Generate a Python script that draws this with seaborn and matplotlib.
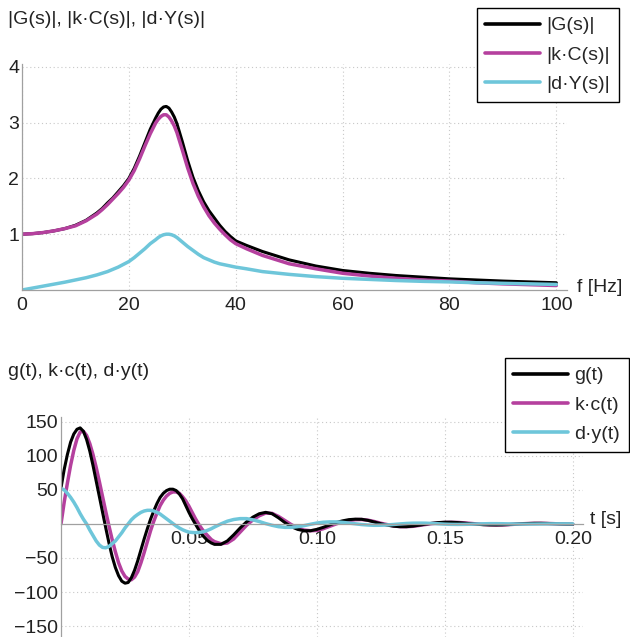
import numpy as np
import matplotlib
matplotlib.use('Agg')
import matplotlib.pyplot as plt
import seaborn as sns
from matplotlib.ticker import MultipleLocator, FixedLocator, FuncFormatter

# Frequency response magnitudes
freq = [0, 2, 4, 6, 8, 10, 12,
        14, 15, 16, 17, 18, 19, 20, 21, 22, 23, 24, 25,
        25.5, 26, 26.5, 27, 27.5, 28, 28.5,
        29, 30, 31, 32, 33, 34, 35, 36, 37, 38, 39, 40,
        42, 45, 50, 55, 60, 65, 70, 75, 80, 85, 90, 95, 100]
mag_g = [1.0, 1.01, 1.03, 1.06, 1.1, 1.16, 1.25,
         1.38, 1.46, 1.56, 1.65, 1.76, 1.87, 2.0, 2.18, 2.4, 2.64, 2.88, 3.08,
         3.17, 3.24, 3.28, 3.29, 3.26, 3.19, 3.1,
         2.98, 2.66, 2.32, 2.02, 1.78, 1.58, 1.42, 1.29, 1.16, 1.05, 0.96, 0.88,
         0.8, 0.69, 0.54, 0.43, 0.35, 0.3, 0.26, 0.23, 0.2, 0.18, 0.16, 0.145, 0.13]
mag_kc = [1.0, 1.01, 1.03, 1.06, 1.1, 1.15, 1.24,
          1.36, 1.44, 1.53, 1.63, 1.73, 1.84, 1.97, 2.14, 2.35, 2.58, 2.8, 2.99,
          3.06, 3.11, 3.14, 3.14, 3.1, 3.03, 2.94,
          2.82, 2.51, 2.19, 1.91, 1.68, 1.49, 1.33, 1.2, 1.09, 0.99, 0.9, 0.83,
          0.74, 0.62, 0.47, 0.38, 0.3, 0.25, 0.21, 0.18, 0.16, 0.13, 0.11, 0.095, 0.08]
mag_dy = [0.0, 0.035, 0.07, 0.105, 0.14, 0.18, 0.22,
          0.27, 0.3, 0.33, 0.37, 0.41, 0.46, 0.51, 0.58, 0.66, 0.74, 0.83, 0.9,
          0.94, 0.97, 0.99, 1.0, 1.0, 0.99, 0.97,
          0.94, 0.86, 0.78, 0.71, 0.64, 0.58, 0.54, 0.5, 0.47, 0.45, 0.43, 0.41,
          0.38, 0.33, 0.28, 0.24, 0.21, 0.19, 0.17, 0.155, 0.145, 0.13, 0.12, 0.11, 0.1]

# Impulse responses: sample times 1.25 ms apart up to 0.06 s, then 2.5 ms
t = np.concatenate([np.linspace(0, 0.06, 49), np.linspace(0.0625, 0.2, 56)])
resp_g = [53, 80, 102, 120, 132, 139, 141, 136, 124, 107,
          86, 63, 40, 17, -6, -28, -48, -64, -76, -84,
          -87, -86, -79, -68, -54, -38, -22, -7, 7, 19,
          30, 39, 45, 49, 51, 51, 49, 44, 37, 27,
          17, 8, 0, -8, -15, -20.5, -25, -28, -30,
          -30, -25, -16, -6, 3, 10, 15, 17, 15, 9,
          2, -4, -8, -10, -10, -8, -5, -1.5, 2, 4.5,
          6.3, 7, 6.8, 5.2, 2.8, 0.3, -1.8, -3.3, -4, -4,
          -3.2, -1.8, -0.3, 1, 2, 2.5, 2.5, 2, 1.2, 0.3,
          -0.5, -1.1, -1.4, -1.5, -1.3, -0.9, -0.3, 0.2, 0.6, 0.9,
          0.9, 0.7, 0.4, 0, -0.3, -0.5]
resp_kc = [0, 32, 60, 86, 108, 125, 135, 136, 130, 118,
           102, 83, 62, 40, 18, -3, -23, -41, -57, -69,
           -77, -81, -82, -78, -70, -57, -42, -26, -10, 4,
           16, 27, 35, 41, 45, 47, 47, 45, 40, 34,
           26, 17, 8, 0, -7, -13, -18, -23, -26,
           -29, -28, -22, -12, -2, 6, 12, 16, 15.5, 11,
           5, -1, -6, -9, -10, -9.5, -7, -3.5, 0, 3,
           5, 6.3, 6.5, 5.5, 3.5, 1, -1, -3, -4, -4,
           -3.5, -2.2, -0.8, 0.5, 1.5, 2.1, 2.3, 2.2, 1.6, 0.8,
           0, -0.7, -1.2, -1.4, -1.4, -1, -0.4, 0.2, 0.6, 0.8,
           0.9, 0.7, 0.4, 0, -0.3, -0.5]
resp_dy = [52, 50, 45, 39, 32, 24, 15, 7, 0, -9,
           -17, -25, -31, -34.5, -35, -33, -29, -25, -19, -13,
           -6, 0, 6, 10.5, 14, 17, 19, 20, 20, 19,
           17, 14.5, 11, 7.5, 4, 0.5, -3, -6, -8.5, -10.5,
           -12, -12.5, -12.8, -12.5, -12, -10.8, -9, -7, -4.5,
           0, 4, 6.5, 7.8, 7.8, 6, 3.5, 0.5, -2, -4,
           -5, -5, -4, -2.5, -0.5, 1.3, 2.5, 3, 3, 2.3,
           1.3, 0.2, -0.9, -1.6, -2, -1.9, -1.5, -0.8, 0, 0.7,
           1.1, 1.2, 1.1, 0.7, 0.2, -0.3, -0.6, -0.7, -0.6, -0.4,
           -0.1, 0.2, 0.4, 0.4, 0.3, 0.1, -0.1, -0.2, -0.25, -0.2,
           -0.1, 0, 0.1, 0.15, 0.1, 0.05]

top_labels = ['|G(s)|', '|k·C(s)|', '|d·Y(s)|']
bottom_labels = ['g(t)', 'k·c(t)', 'd·y(t)']
colors = ['black', '#B5409E', '#6EC6DA']
widths = [2.2, 2.5, 2.5]

sns.set_theme(style='white')
plt.rcParams['font.family'] = ['Liberation Sans', 'DejaVu Sans']
plt.rcParams['font.size'] = 14

fig = plt.figure(figsize=(6.3, 6.37), dpi=100)
ax1 = fig.add_axes([22 / 630, 1 - 290 / 637, 545 / 630, 226 / 637])
ax2 = fig.add_axes([61 / 630, 0, 522 / 630, 220 / 637])

# top panel
for y, lab, c, w in zip([mag_g, mag_kc, mag_dy], top_labels, colors, widths):
    sns.lineplot(x=freq, y=y, color=c, linewidth=w, label=lab, ax=ax1)
ax1.set_xlim(0, 102)
ax1.set_ylim(0, 4.05)
ax1.xaxis.set_major_locator(FixedLocator([0, 20, 40, 60, 80, 100]))
ax1.xaxis.set_minor_locator(MultipleLocator(5))
ax1.yaxis.set_major_locator(FixedLocator([1, 2, 3, 4]))
ax1.yaxis.set_minor_locator(MultipleLocator(0.2))

# bottom panel (kc first so g sits on top of it, dy on top of both)
series = [resp_g, resp_kc, resp_dy]
for i in [1, 0, 2]:
    sns.lineplot(x=t, y=series[i], color=colors[i], linewidth=widths[i],
                 label=bottom_labels[i], ax=ax2, sort=False)
ax2.set_xlim(0, 0.204)
ax2.set_ylim(-166, 157)
ax2.spines['bottom'].set_position('zero')
ax2.xaxis.set_major_locator(FixedLocator([0.05, 0.10, 0.15, 0.20]))
ax2.xaxis.set_major_formatter(FuncFormatter(lambda v, p: f'{v:.2f}'))
ax2.xaxis.set_minor_locator(MultipleLocator(0.01))
ax2.yaxis.set_major_locator(FixedLocator([-150, -100, -50, 50, 100, 150]))
ax2.yaxis.set_minor_locator(MultipleLocator(10))

for ax in [ax1, ax2]:
    for s in ['top', 'right']:
        ax.spines[s].set_visible(False)
    for s in ['left', 'bottom']:
        ax.spines[s].set_color('#A0A0A0')
        ax.spines[s].set_linewidth(0.9)
    ax.tick_params(which='both', direction='in', color='#A0A0A0', labelsize=14,
                   labelcolor='#222222')
    ax.tick_params(which='major', length=4.5, width=0.8)
    ax.tick_params(which='minor', length=2.5, width=0.6)
    ax.tick_params(axis='y', pad=2)
    ax.tick_params(axis='x', pad=5)
    ax.grid(True, which='major', color='#C8C8C8', linestyle=(0, (1, 2.5)), linewidth=0.8)
    ax.set_axisbelow(True)
    ax.set_xlabel('')
    ax.set_ylabel('')

# legends: handles in the original g, kc, dy order
leg_kw = dict(bbox_transform=fig.transFigure, loc='upper right', frameon=True,
              fancybox=False, edgecolor='black', framealpha=1, fontsize=14,
              handlelength=2.8, handletextpad=0.35, labelspacing=0.6, borderpad=0.45,
              borderaxespad=0)
h1, l1 = ax1.get_legend_handles_labels()
ax1.legend(h1, l1, bbox_to_anchor=(619 / 630, 1 - 8 / 637), **leg_kw)
h2, l2 = ax2.get_legend_handles_labels()
idx = [l2.index(lab) for lab in bottom_labels]
ax2.legend([h2[i] for i in idx], bottom_labels,
           bbox_to_anchor=(629 / 630, 1 - 358 / 637), **leg_kw)
for leg in [ax1.get_legend(), ax2.get_legend()]:
    leg.get_frame().set_linewidth(1.0)
    for line in leg.get_lines():
        line.set_linewidth(2.6)

# axis names in Mathematica style
ax1.annotate('f [Hz]', xy=(1, 0), xycoords='axes fraction', xytext=(7, 2),
             textcoords='offset points', va='center', ha='left', fontsize=14, color='#222222')
ax2.annotate('t [s]', xy=(1, 0), xycoords=('axes fraction', 'data'), xytext=(5, 3),
             textcoords='offset points', va='center', ha='left', fontsize=14, color='#222222')
fig.text(8 / 630, 1 - 19 / 637, '|G(s)|, |k·C(s)|, |d·Y(s)|', va='center', ha='left',
         fontsize=14, color='#222222')
fig.text(8 / 630, 1 - 371 / 637, 'g(t), k·c(t), d·y(t)', va='center', ha='left',
         fontsize=14, color='#222222')

fig.savefig('out.png', dpi=100)
